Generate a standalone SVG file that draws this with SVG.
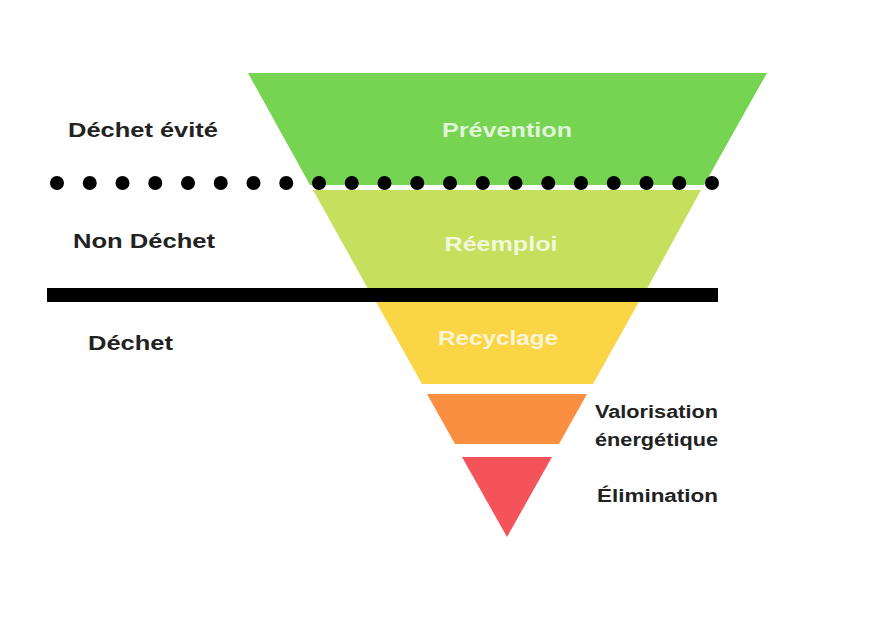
<svg xmlns="http://www.w3.org/2000/svg" width="894" height="637" viewBox="0 0 894 637">
<style>
.lbl{font-family:"Liberation Sans",Arial,sans-serif;font-weight:bold;fill:#222;}
.in{font-family:"Liberation Sans",Arial,sans-serif;font-weight:bold;fill:#ffffff;fill-opacity:0.78;text-anchor:middle;}
</style>
<rect width="894" height="637" fill="#ffffff"/>
<g id="prevention">
<polygon points="248,73 767,73 704,185 310,185" fill="#76D452"/>
<text class="in" x="507" y="137" font-size="21" textLength="130" lengthAdjust="spacingAndGlyphs">Prévention</text>
</g>
<g id="reemploi">
<polygon points="313,190 701,190 643,296 372,296" fill="#C6DF5C"/>
<text class="in" x="501" y="251" font-size="21" textLength="113" lengthAdjust="spacingAndGlyphs">Réemploi</text>
</g>
<g id="recyclage">
<polygon points="375,300 640,300 593,384 422,384" fill="#FAD545"/>
<text class="in" x="498" y="345" font-size="21" textLength="120" lengthAdjust="spacingAndGlyphs">Recyclage</text>
</g>
<g id="valorisation">
<polygon points="427,394 587,394 559,444 455,444" fill="#FA8E41"/>
<text class="lbl" x="595" y="418" font-size="18" textLength="123" lengthAdjust="spacingAndGlyphs">Valorisation</text>
<text class="lbl" x="595" y="446" font-size="18" textLength="123" lengthAdjust="spacingAndGlyphs">énergétique</text>
</g>
<g id="elimination">
<polygon points="462,457 552,457 507,537" fill="#F5535A"/>
<text class="lbl" x="597" y="502" font-size="18" textLength="121" lengthAdjust="spacingAndGlyphs">Élimination</text>
</g>
<g id="zones">
<text class="lbl" x="68" y="137" font-size="20" textLength="150" lengthAdjust="spacingAndGlyphs">Déchet évité</text>
<text class="lbl" x="73" y="248" font-size="20" textLength="142" lengthAdjust="spacingAndGlyphs">Non Déchet</text>
<text class="lbl" x="88" y="350" font-size="20" textLength="85" lengthAdjust="spacingAndGlyphs">Déchet</text>
</g>
<g id="connectors">
<line x1="57" y1="183" x2="713" y2="183" stroke="#000" stroke-width="14" stroke-linecap="round" stroke-dasharray="0 32.75"/>
<rect x="47" y="288" width="671" height="14" fill="#000"/>
</g>
</svg>
